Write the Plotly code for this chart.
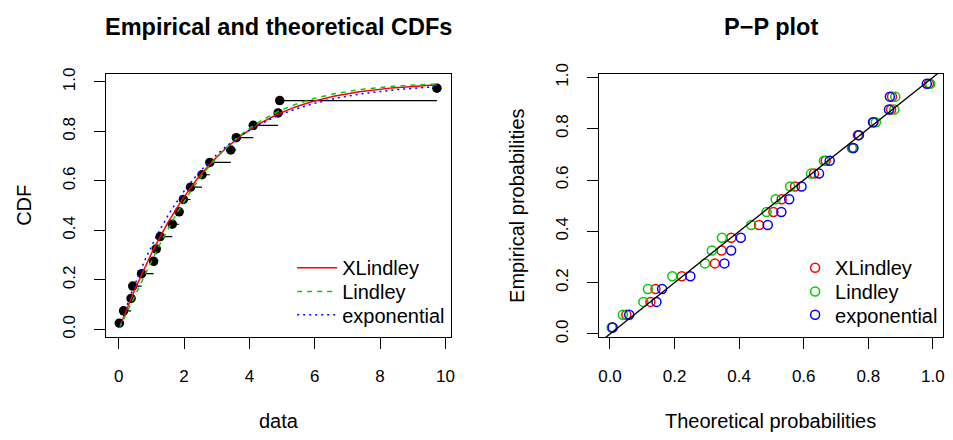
import numpy as np
import plotly.graph_objects as go

# ---- data ----
data_values = [0.02, 0.15, 0.38, 0.43, 0.70, 1.07, 1.15, 1.27, 1.64, 1.85,
               1.98, 2.20, 2.55, 2.79, 3.43, 3.60, 4.12, 4.88, 4.93, 9.74]
empirical_probs = [0.025, 0.075, 0.125, 0.175, 0.225, 0.275, 0.325, 0.375, 0.425, 0.475,
                   0.525, 0.575, 0.625, 0.675, 0.725, 0.775, 0.825, 0.875, 0.925, 0.975]
dist_names = ["XLindley", "Lindley", "exponential"]
dist_colors = ["#FF0000", "#00CD00", "#0000FF"]
dist_dashes = ["solid", "5px,5px", "2px,4px"]
theta_xlindley = 0.574
theta_lindley = 0.656
rate_exponential = 0.409
cdf_xticks = [0, 2, 4, 6, 8, 10]
prob_ticks = [0.0, 0.2, 0.4, 0.6, 0.8, 1.0]


def cdf_xlindley(x, t):
    x = np.asarray(x, float)
    return 1 - (1 + t * x / (1 + t) ** 2) * np.exp(-t * x)


def cdf_lindley(x, t):
    x = np.asarray(x, float)
    return 1 - (1 + t * x / (1 + t)) * np.exp(-t * x)


def cdf_exp(x, r):
    x = np.asarray(x, float)
    return 1 - np.exp(-r * x)


cdfs = [lambda x: cdf_xlindley(x, theta_xlindley),
        lambda x: cdf_lindley(x, theta_lindley),
        lambda x: cdf_exp(x, rate_exponential)]

W, H = 953, 440
FONT = "Liberation Sans, Arial, sans-serif"

left_legends = ["legend", "legend3", "legend4"]
right_legends = ["legend2", "legend5", "legend6"]
legend_rows = [267.0, 291.7, 316.0]

fig = go.Figure()

# ---- left: empirical and theoretical CDFs ----
fig.add_trace(go.Scatter(x=data_values, y=empirical_probs, mode="markers",
                         marker=dict(color="black", size=9.5), showlegend=False,
                         xaxis="x", yaxis="y"))
hx, hy = [], []
for i in range(len(data_values) - 1):
    hx += [data_values[i], data_values[i + 1], None]
    hy += [empirical_probs[i], empirical_probs[i], None]
fig.add_trace(go.Scatter(x=hx, y=hy, mode="lines", line=dict(color="black", width=1.2),
                         showlegend=False, xaxis="x", yaxis="y"))
grid = np.linspace(min(data_values), max(data_values), 300)
for name, col, dash, f, lg in zip(dist_names, dist_colors, dist_dashes, cdfs, left_legends):
    fig.add_trace(go.Scatter(x=grid, y=f(grid), mode="lines", name=name,
                             line=dict(color=col, width=1.5, dash=dash),
                             legend=lg, xaxis="x", yaxis="y"))

# ---- right: P-P plot ----
for name, col, f, lg in zip(dist_names, dist_colors, cdfs, right_legends):
    fig.add_trace(go.Scatter(x=f(data_values), y=empirical_probs, mode="markers", name=name,
                             marker=dict(symbol="circle-open", color=col, size=9,
                                         line=dict(width=1.5, color=col)),
                             legend=lg, xaxis="x2", yaxis="y2"))
fig.add_trace(go.Scatter(x=[-0.5, 1.5], y=[-0.5, 1.5], mode="lines",
                         line=dict(color="black", width=1.3), showlegend=False,
                         xaxis="x2", yaxis="y2"))

box_top, box_bot = 65.6, 339.4
ydom = [(H - box_bot) / H, (H - box_top) / H]

axis_common = dict(showline=True, mirror=True, linecolor="black", linewidth=1,
                   ticks="outside", ticklen=11, tickwidth=1, tickcolor="black",
                   showgrid=False, zeroline=False,
                   tickfont=dict(family=FONT, size=17, color="black"))

layout = dict(
    width=W, height=H, autosize=False,
    margin=dict(l=0, r=0, t=0, b=0),
    paper_bgcolor="white", plot_bgcolor="white",
    font=dict(family=FONT, color="black"),
    xaxis=dict(domain=[106 / W, 452 / W], range=[-0.3745, 10.16], tickvals=cdf_xticks,
               anchor="y", ticklabelstandoff=12, **axis_common),
    yaxis=dict(domain=ydom, range=[-0.032, 1.032], tickvals=prob_ticks, tickformat=".1f",
               tickangle=-90, anchor="x", ticklabelstandoff=13, **axis_common),
    xaxis2=dict(domain=[601.5 / W, 946.5 / W], range=[-0.033, 1.03], tickvals=prob_ticks,
                tickformat=".1f", anchor="y2", ticklabelstandoff=12, **axis_common),
    yaxis2=dict(domain=ydom, range=[-0.013, 1.013], tickvals=prob_ticks, tickformat=".1f",
                tickangle=-90, anchor="x2", ticklabelstandoff=13, **axis_common),
)
for lg, yrow in zip(left_legends, legend_rows):
    layout[lg] = dict(x=(342.7 - 50) / W, y=1 - yrow / H, xanchor="left", yanchor="middle",
                      bgcolor="rgba(0,0,0,0)", borderwidth=0, itemwidth=40,
                      font=dict(family=FONT, size=20, color="black"))
for lg, yrow in zip(right_legends, legend_rows):
    layout[lg] = dict(x=(838.3 - 40) / W, y=1 - yrow / H, xanchor="left", yanchor="middle",
                      bgcolor="rgba(0,0,0,0)", borderwidth=0,
                      font=dict(family=FONT, size=20, color="black"))
fig.update_layout(**layout)

annots = [
    dict(text="<b>Empirical and theoretical CDFs</b>", x=279 / W, y=1 - 16.7 / H,
         size=23.5, angle=0),
    dict(text="<b>P\u2212P plot</b>", x=774 / W, y=1 - 16.7 / H, size=23.5, angle=0),
    dict(text="data", x=279 / W, y=1 - 426 / H, size=20, angle=0),
    dict(text="Theoretical probabilities", x=774 / W, y=1 - 426 / H, size=20, angle=0),
    dict(text="CDF", x=22.3 / W, y=1 - 202.5 / H, size=20, angle=-90),
    dict(text="Empirical probabilities", x=518 / W, y=1 - 202.5 / H, size=20, angle=-90),
]
for a in annots:
    fig.add_annotation(text=a["text"], x=a["x"], y=a["y"], xref="paper", yref="paper",
                       xanchor="center", yanchor="middle", showarrow=False,
                       textangle=a["angle"],
                       font=dict(family=FONT, size=a["size"], color="black"))

fig.write_html("out.html")
